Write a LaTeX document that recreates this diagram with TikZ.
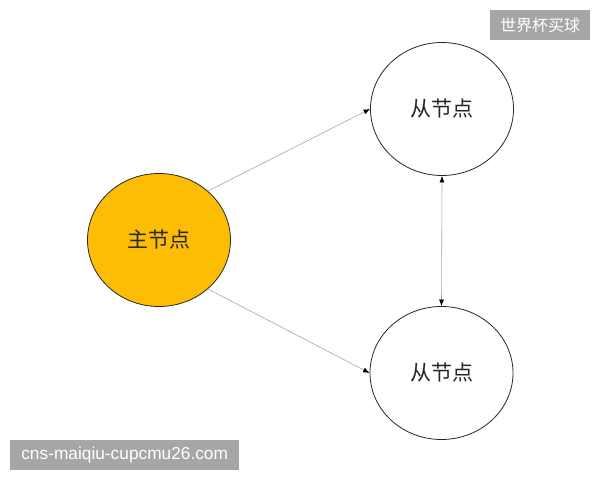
\documentclass[tikz,border=0pt]{standalone}
\usepackage{fontspec}
\usepackage{xcolor}
\newfontfamily\cjk{Noto Sans CJK SC}
\setsansfont{Liberation Sans}
\usetikzlibrary{shapes.geometric,arrows.meta}
\definecolor{master fill}{RGB}{252,189,4}
\colorlet{node edge}{black!85}
\colorlet{link line}{black!35}
\colorlet{mark fill}{black!35}
\tikzset{node base/.style={ellipse, draw=node edge, line width=0.8pt,
        minimum width=143pt, minimum height=133pt, inner sep=0pt,
        font=\cjk\fontsize{21}{21}\selectfont, text=black!85},
    master/.style={node base, fill=master fill},
    slave/.style={node base, fill=white},
    link/.style={draw=link line, line width=0.6pt,
        -{Latex[length=6.5pt,width=5pt,color=black]}},
    markbox/.style={fill=mark fill, text=white, inner sep=0pt, anchor=north west}}

\begin{document}
\begin{tikzpicture}[x=1pt,y=1pt]
    \useasboundingbox (0,0) rectangle (600,480);
    \node[master] (main)   at (159,240)   {主节点};
    \node[slave]  (upper)  at (442,371)   {从节点};
    \node[slave]  (lower)  at (441.5,107) {从节点};
    \draw[link] (main.45)  -- (upper.west);
    \draw[link] (main.-45) -- (lower.west);
    \draw[link, {Latex[length=6.5pt,width=5pt,color=black]}-{Latex[length=6.5pt,width=5pt,color=black]}] (upper.south) -- (lower.north);
    % watermark boxes
    \node[markbox, minimum width=100pt, minimum height=30pt, font=\cjk\fontsize{16}{16}\selectfont] (tag) at (490,470) {世界杯买球};
    \node[markbox, minimum width=229pt, minimum height=30pt, font=\sffamily\fontsize{17.3}{17.3}\selectfont] (site) at (10,40) {cns-maiqiu-cupcmu26.com};
\end{tikzpicture}
\end{document}
